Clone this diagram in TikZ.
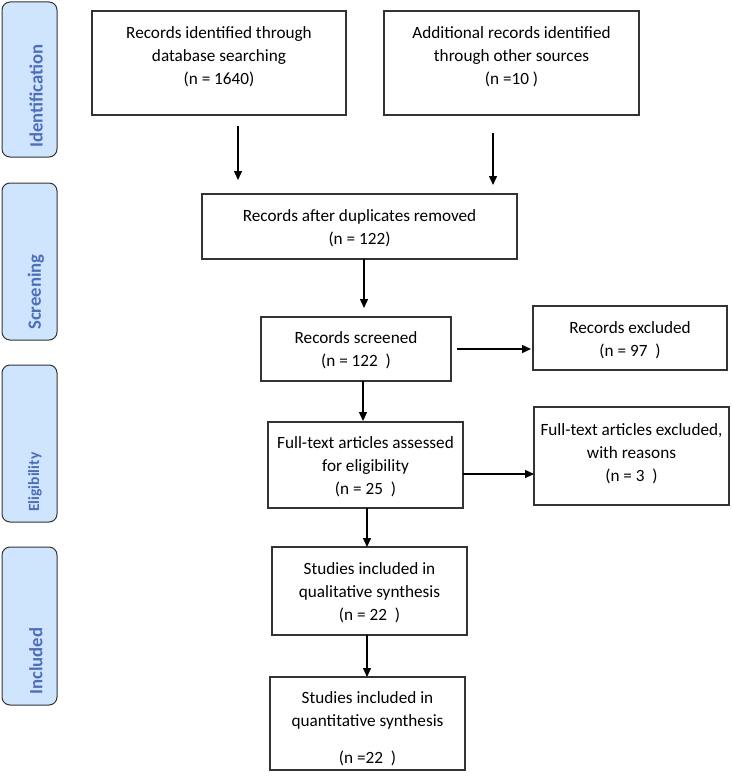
\documentclass[tikz,border=0pt]{standalone}
\usepackage{fontspec}
\setmainfont{Carlito}
\usetikzlibrary{arrows.meta}
\definecolor{sidefill}{HTML}{CFE5FE}
\definecolor{sidetext}{HTML}{4E6EBA}
\definecolor{boxline}{HTML}{333333}
\tikzset{
  flowbox/.style={draw=boxline, line width=1.2pt, fill=white, inner sep=0pt},
  txt/.style={align=center, font=\fontsize{17.2}{23}\selectfont, inner sep=0pt},
  sidebox/.style={draw=boxline, line width=1pt, fill=sidefill, rounded corners=8pt, inner sep=0pt},
  sidelab/.style={rotate=90, anchor=west, text=sidetext, font=\fontsize{18.7}{20}\selectfont\bfseries, inner sep=0pt},
  flowarrow/.style={-{Triangle[length=9pt,width=8pt]}, line width=1.4pt, black}
}
\begin{document}
\begin{tikzpicture}[x=1pt,y=-1pt]
\useasboundingbox (0,0) rectangle (731,781);
% side boxes
\node[sidebox, minimum width=55pt, minimum height=155pt] (sI) at (29.5,79.5) {};
\node[sidebox, minimum width=55pt, minimum height=157pt] (sS) at (29.5,261.5) {};
\node[sidebox, minimum width=55pt, minimum height=157pt] (sE) at (29.5,443.5) {};
\node[sidebox, minimum width=55pt, minimum height=158pt] (sN) at (29.5,626) {};
\node[sidelab] (tI) at (36,148) {Identification};
\node[sidelab] (tS) at (36,330) {Screening};
\node[sidelab, font=\fontsize{15.6}{16}\selectfont\bfseries] (tE) at (35,512) {Eligibility};
\node[sidelab] (tN) at (36,695) {Included};
% boxes
\node[flowbox, minimum width=254pt, minimum height=104pt] (A) at (219,63) {};
\node[txt] at (219,57) {Records identified through\\database searching\\(n = 1640)};
\node[flowbox, minimum width=255pt, minimum height=104pt] (B) at (511.5,63) {};
\node[txt] at (511.5,57) {Additional records identified\\through other sources\\(n =10 )};
\node[flowbox, minimum width=315pt, minimum height=65pt] (C) at (359.5,226.5) {};
\node[txt] at (359.5,228) {Records after duplicates removed\\(n = 122)};
\node[flowbox, minimum width=190pt, minimum height=64pt] (D) at (356,349) {};
\node[txt] at (356,350.5) {Records screened\\(n = 122\ \ )};
\node[flowbox, minimum width=194pt, minimum height=64pt] (E) at (630,338) {};
\node[txt] at (630,340) {Records excluded\\(n = 97\ \ )};
\node[flowbox, minimum width=195pt, minimum height=86pt] (F) at (365.5,465) {};
\node[txt] at (365.5,467) {Full-text articles assessed\\for eligibility\\(n = 25\ \ )};
\node[flowbox, minimum width=195pt, minimum height=98pt] (G) at (631.5,456) {};
\node[txt] at (631.5,454) {Full-text articles excluded,\\with reasons\\(n = 3\ \ )};
\node[flowbox, minimum width=195pt, minimum height=88pt] (H) at (369.5,591) {};
\node[txt] at (369.5,593) {Studies included in\\qualitative synthesis\\(n = 22\ \ )};
\node[flowbox, minimum width=195pt, minimum height=93pt] (I) at (367.5,723.5) {};
\node[txt] at (367.5,729) {Studies included in\\quantitative synthesis\\[14pt](n =22\ \ )};
% arrows
\coordinate (a1) at (238,126);
\coordinate (a2) at (238,180);
\coordinate (b1) at (493,133);
\coordinate (b2) at (493,185);
\draw[flowarrow] (a1) -- (a2);
\draw[flowarrow] (b1) -- (b2);
\coordinate (c1) at (364,259);
\coordinate (c2) at (364,308);
\draw[flowarrow] (c1) -- (c2);
\coordinate (d1) at (457,349);
\coordinate (d2) at (531,349);
\draw[flowarrow] (d1) -- (d2);
\coordinate (d3) at (363,381);
\coordinate (d4) at (363,421);
\draw[flowarrow] (d3) -- (d4);
\coordinate (f1) at (463,474);
\coordinate (f2) at (534,474);
\draw[flowarrow] (f1) -- (f2);
\coordinate (f3) at (367,508);
\coordinate (f4) at (367,547);
\draw[flowarrow] (f3) -- (f4);
\coordinate (h1) at (367,635);
\coordinate (h2) at (367,677);
\draw[flowarrow] (h1) -- (h2);
\end{tikzpicture}
\end{document}
